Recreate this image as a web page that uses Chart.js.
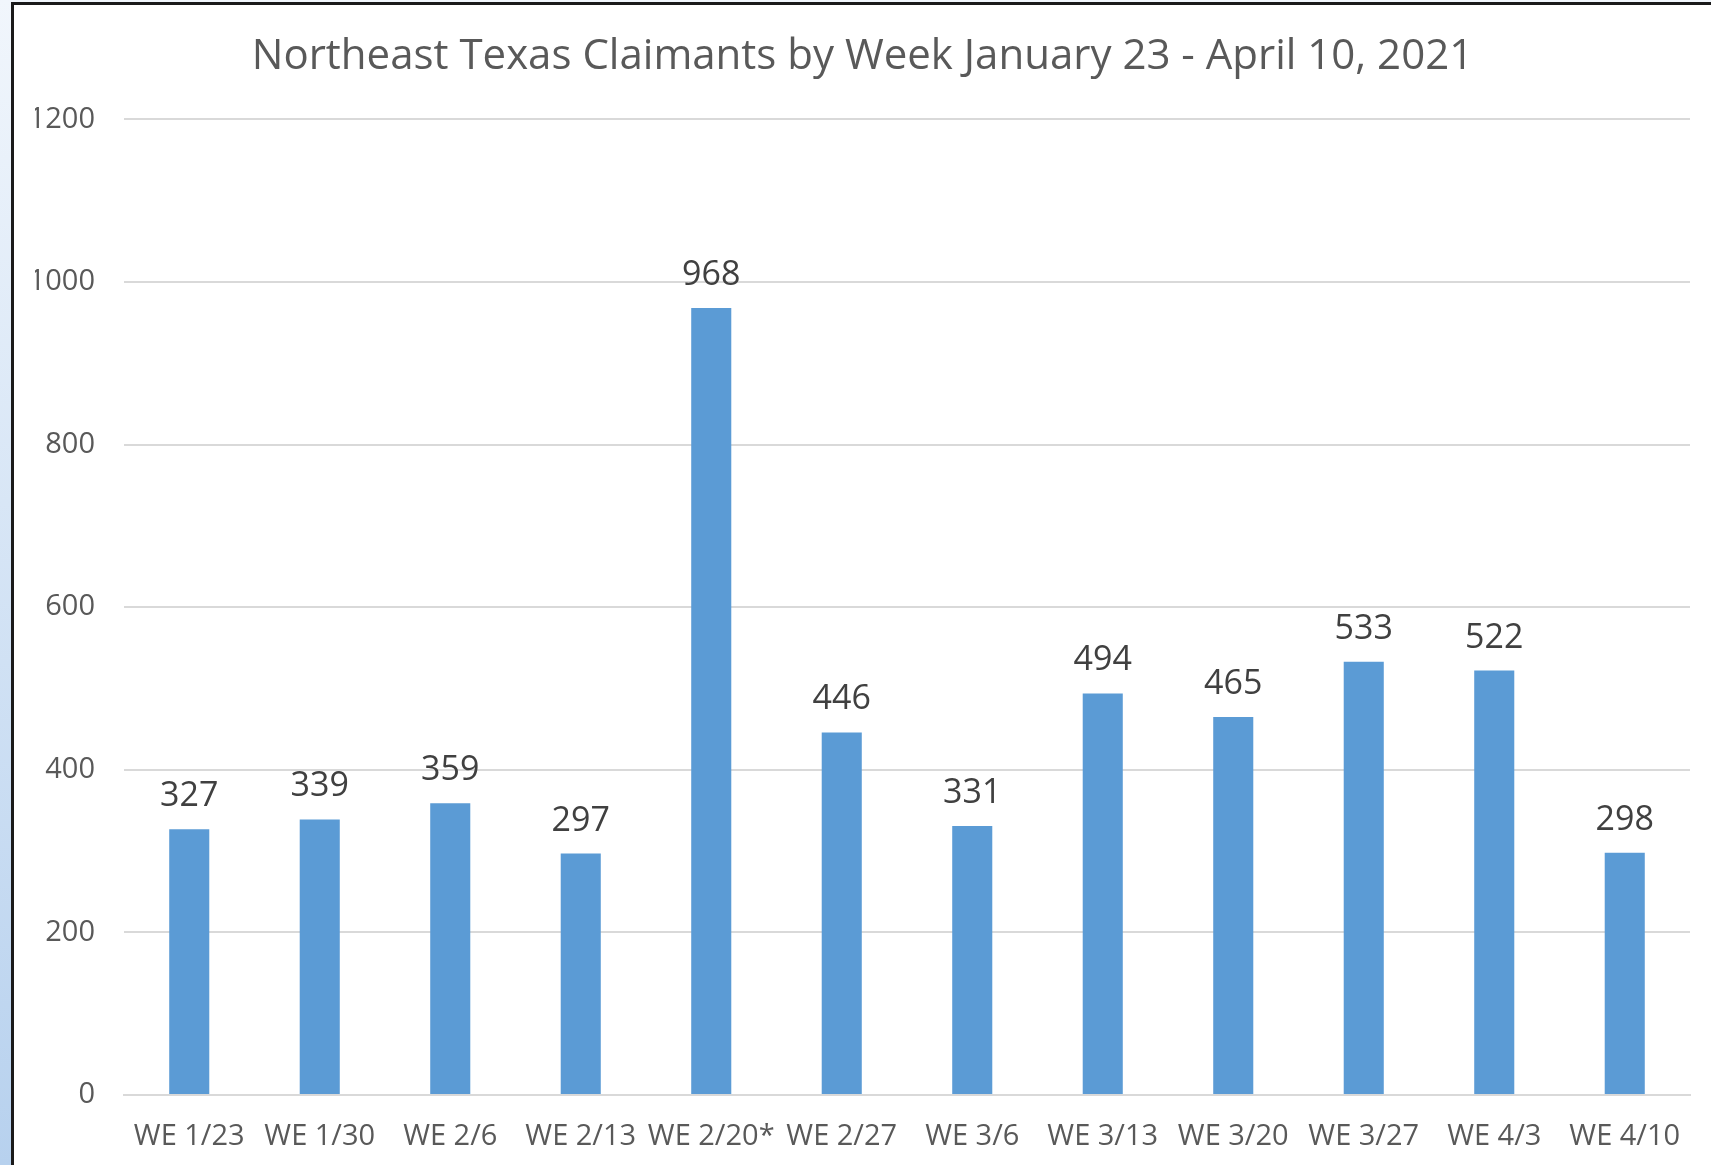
<!DOCTYPE html>
<html>
<head>
<meta charset="utf-8">
<script src="https://cdn.jsdelivr.net/npm/chart.js@4/dist/chart.umd.min.js"></script>
<style>
  body {
    margin: 0;
    width: 1711px;
    height: 1165px;
    overflow: hidden;
    background: linear-gradient(to bottom, #f1f6fc, #b7d1ee);
  }
  #frame {
    position: absolute;
    left: 11px;
    top: 2px;
    width: 1697px;
    height: 1160px;
    border-left: 3px solid #1a1a1a;
    border-top: 3px solid #1a1a1a;
    background: #fff;
  }
</style>
</head>
<body>
<div id="frame">
  <canvas id="myChart" width="1697" height="1160"></canvas>
</div>
<script>
const weeks = ["WE 1/23", "WE 1/30", "WE 2/6", "WE 2/13", "WE 2/20*", "WE 2/27",
  "WE 3/6", "WE 3/13", "WE 3/20", "WE 3/27", "WE 4/3", "WE 4/10"];
const claimants = [327, 339, 359, 297, 968, 446, 331, 494, 465, 533, 522, 298];
const titleText = "Northeast Texas Claimants by Week January 23 - April 10, 2021";

const fontName = "'Open Sans', sans-serif";

// draw the value above each bar
const valueLabels = {
  id: "valueLabels",
  afterDatasetsDraw(chart) {
    const ctx = chart.ctx;
    const meta = chart.getDatasetMeta(0);
    ctx.save();
    ctx.font = "34px " + fontName;
    ctx.fillStyle = "#404040";
    ctx.textAlign = "center";
    ctx.textBaseline = "alphabetic";
    meta.data.forEach((bar, i) => {
      ctx.fillText(String(claimants[i]), bar.x, bar.y - 23);
    });
    ctx.restore();
  }
};

const config = {
  type: "bar",
  data: {
    labels: weeks,
    datasets: [
      {
        label: "Claimants",
        data: claimants,
        backgroundColor: "#5b9bd5",
        borderWidth: 0,
        categoryPercentage: 1,
        barPercentage: 0.307,
      },
    ],
  },
  options: {
    responsive: false,
    animation: false,
    layout: { padding: { left: 21, right: 21, top: 0, bottom: 0 } },
    plugins: {
      legend: { display: false },
      tooltip: { enabled: false },
      title: {
        display: true,
        text: titleText,
        color: "#595959",
        font: { family: fontName, size: 42, weight: "normal", lineHeight: 1.2 },
        padding: { top: 27, bottom: 37 },
      },
    },
    scales: {
      x: {
        grid: { display: false },
        border: { display: true, color: "#d9d9d9", width: 2 },
        ticks: {
          color: "#595959",
          font: { family: fontName, size: 29 },
          padding: 16,
          maxRotation: 0,
          autoSkip: false,
        },
        afterFit(scale) {
          scale.height = 70;
        },
      },
      y: {
        min: 0,
        max: 1200,
        grid: { color: "#d9d9d9", lineWidth: 2, drawTicks: false },
        border: { display: false },
        ticks: {
          stepSize: 200,
          color: "#595959",
          font: { family: fontName, size: 29 },
          padding: 29,
          callback: (value) => String(value),
        },
        afterFit(scale) {
          scale.width = 89;
        },
      },
    },
  },
  plugins: [valueLabels],
};

new Chart(document.getElementById("myChart"), config);
</script>
</body>
</html>
